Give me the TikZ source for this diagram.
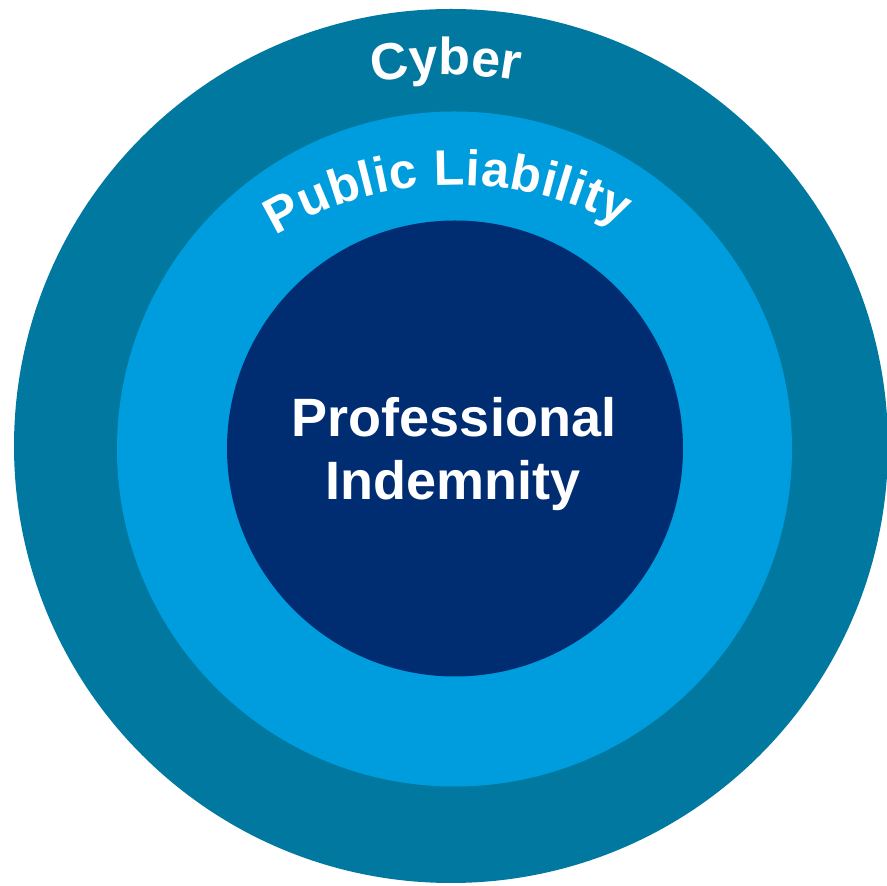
\documentclass[tikz,border=0pt]{standalone}
\usepackage{fontspec}
\setmainfont{Liberation Sans}
\usetikzlibrary{decorations.text}
\definecolor{cyberblue}{RGB}{0,120,160}
\definecolor{publicblue}{RGB}{0,157,222}
\definecolor{piblue}{RGB}{0,45,114}
\tikzset{
  ring/.style={circle, inner sep=0pt, draw=none},
  centretext/.style={text=white, font=\fontsize{54}{54}\selectfont\bfseries, inner sep=0pt, anchor=base},
}
\begin{document}
\begin{tikzpicture}[x=1pt,y=1pt]
\useasboundingbox (0,0) rectangle (887,886);
\fill[white] (0,0) rectangle (887,886);
\begin{scope}
\clip (0,0) rectangle (887,886);
\node[ring, fill=cyberblue, minimum size=874pt] (outer) at (451,440) {};
\node[ring, fill=publicblue, minimum size=675pt] (middle) at (454.5,437) {};
\node[ring, fill=piblue, minimum size=456pt] (inner) at (455,437.5) {};
\end{scope}
\node[centretext] (prof) at (454,449) {Professional};
\node[centretext] (indem) at (453,386) {Indemnity};
\path[decorate, decoration={text effects along path, text={Cyber}, text align=center,
  text effects/.cd, fit text to path,
  characters={text along path, font=\fontsize{52}{52}\selectfont\bfseries, text=white}}]
  (451,440) ++(102:371) arc[start angle=102, end angle=79.5, radius=371];
\path[decorate, decoration={text effects along path, text={Public Liability}, text align=center,
  text effects/.cd, fit text to path,
  characters={text along path, font=\fontsize{50}{50}\selectfont\bfseries, text=white}}]
  (457,348) ++(121:353) arc[start angle=121, end angle=62.3, radius=353];
\end{tikzpicture}
\end{document}
